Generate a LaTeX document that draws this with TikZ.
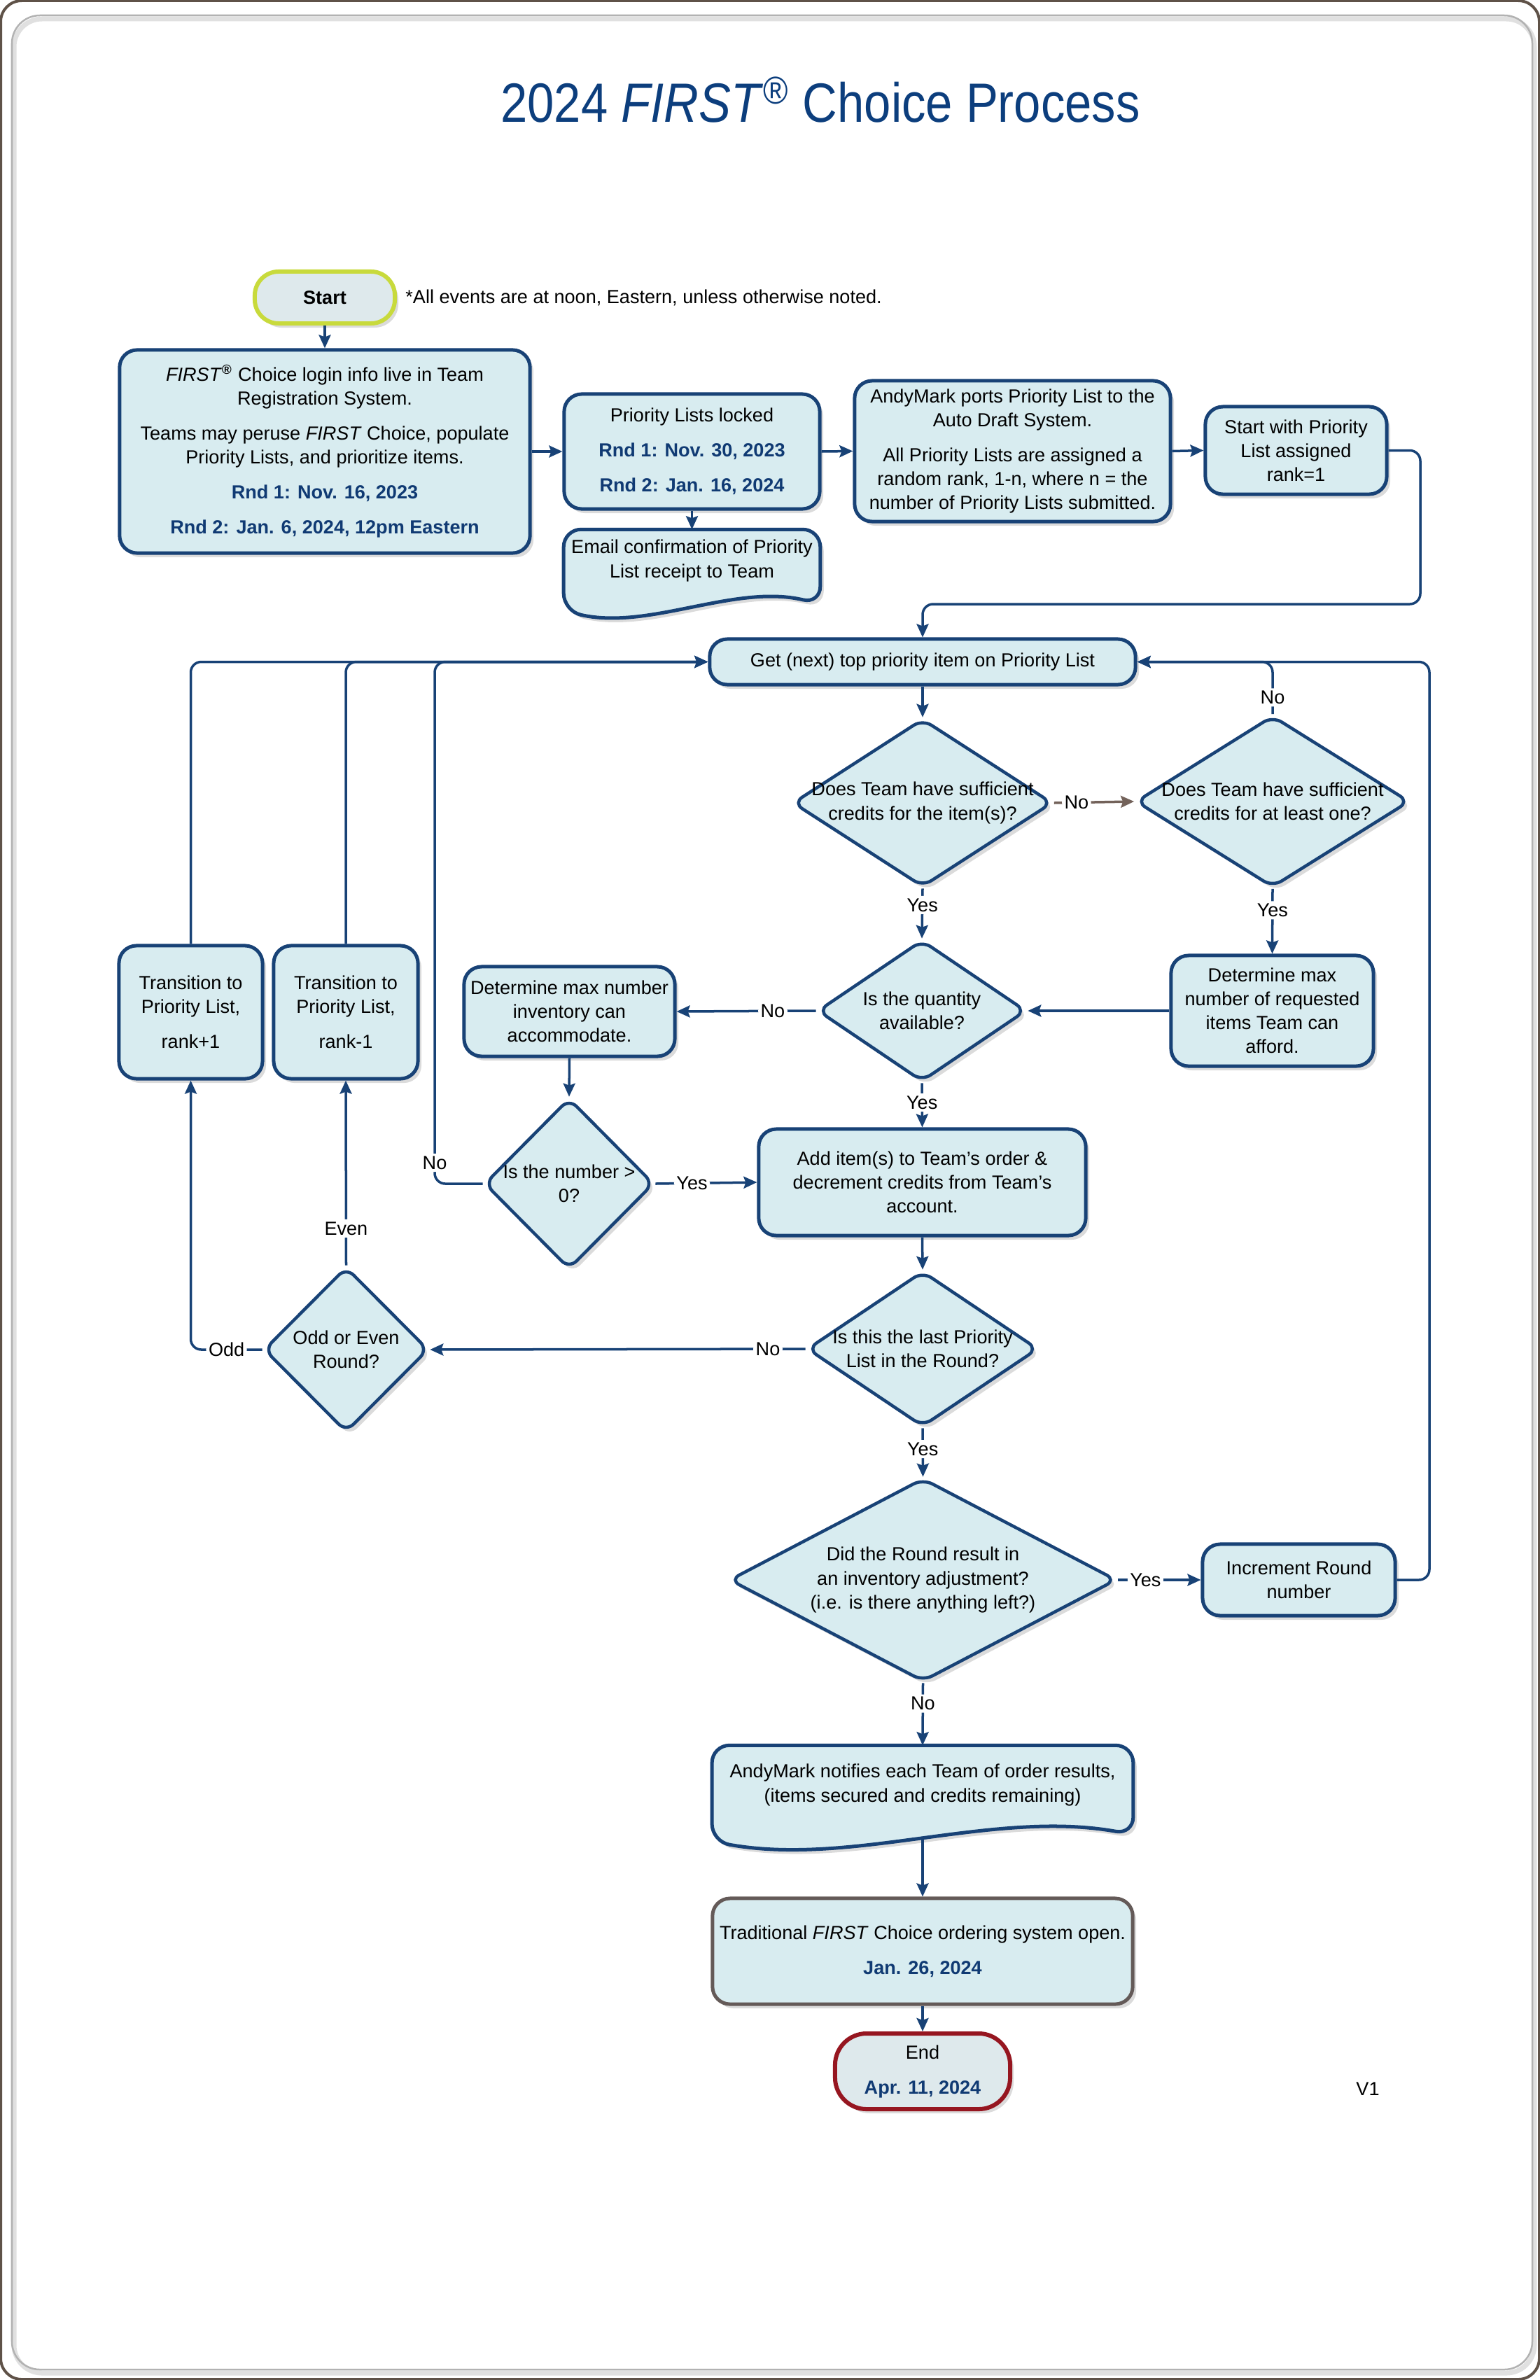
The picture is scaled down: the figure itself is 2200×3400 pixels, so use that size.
\documentclass[tikz,border=0pt]{standalone}
\usepackage{fontspec}
\setmainfont{Liberation Sans}
\newfontfamily\titlefont{Liberation Sans}[FakeStretch=0.87]
\usetikzlibrary{shapes.geometric,arrows.meta,shadows,calc,backgrounds}
\definecolor{navy}{RGB}{24,66,118}
\definecolor{datecol}{RGB}{16,58,115}
\definecolor{titleblue}{RGB}{12,62,125}
\definecolor{boxfill}{RGB}{216,236,240}
\definecolor{startfill}{RGB}{222,233,236}
\definecolor{startline}{RGB}{200,218,60}
\definecolor{endline}{RGB}{150,22,32}
\definecolor{tradline}{RGB}{100,90,88}
\definecolor{framebrown}{RGB}{95,82,72}
\definecolor{noarrow}{RGB}{115,98,90}
\newcommand{\dte}[1]{{\bfseries\color{datecol}#1}}

\begin{document}
\begin{tikzpicture}[x=0.01cm,y=-0.01cm,
  every node/.style={font=\fontsize{7.7}{9.7}\selectfont},
  softshadow/.style={drop shadow={shadow xshift=0.05cm,shadow yshift=-0.06cm,fill=black!40,opacity=0.35}},
  box/.style={draw=navy,line width=0.05cm,fill=boxfill,rounded corners=0.25cm,align=center,inner sep=0pt,softshadow},
  term/.style={draw=startline,line width=0.06cm,fill=startfill,rounded corners=0.34cm,align=center,inner sep=0pt,softshadow},
  dia/.style={diamond,draw=navy,line width=0.045cm,fill=boxfill,rounded corners=0.15cm,inner sep=0pt,softshadow},
  docnode/.style={align=center,inner sep=0pt},
  docshape/.style={draw=navy,line width=0.05cm,fill=boxfill,rounded corners=0.25cm,softshadow},
  txt/.style={align=center,inner sep=0pt},
  conn/.style={draw=navy,line width=0.035cm,rounded corners=0.15cm,-{Stealth[length=0.19cm,width=0.17cm,inset=0.03cm]}},
  lbl/.style={fill=white,inner sep=1pt}]
\useasboundingbox (0,0) rectangle (2200,3400);
% title and note
\node[anchor=base,font=\titlefont\fontsize{22.5}{27}\selectfont,text=titleblue] (title) at (1172,175) {2024 \textit{FIRST}\textsuperscript{®} Choice Process};
\node[term,minimum width=2cm,minimum height=0.74cm] (start) at (464,425) {\textbf{Start}};
\node[anchor=base west] (note) at (567,433) {*All events are at noon, Eastern, unless otherwise noted.};
% top row
\node[box,minimum width=5.86cm,minimum height=2.9cm] (login) at (464,645) {\textit{FIRST}\textsuperscript{\textbf{®}} Choice login info live in Team\\Registration System.\\[4.5pt]Teams may peruse \textit{FIRST} Choice, populate\\Priority Lists, and prioritize items.\\[4.5pt]\dte{Rnd 1: Nov. 16, 2023}\\[4.5pt]\dte{Rnd 2: Jan. 6, 2024, 12pm Eastern}};
\node[box,minimum width=3.65cm,minimum height=1.64cm] (locked) at (988.5,645) {Priority Lists locked\\[4.5pt]\dte{Rnd 1: Nov. 30, 2023}\\[4.5pt]\dte{Rnd 2: Jan. 16, 2024}};
\node[docnode,minimum width=3.65cm,minimum height=0.88cm] (email) at (988.5,801) {Email confirmation of Priority\\List receipt to Team};
\node[box,minimum width=4.51cm,minimum height=2.01cm] (ports) at (1446.5,644.5) {AndyMark ports Priority List to the\\Auto Draft System.\\[4.5pt]All Priority Lists are assigned a\\random rank, 1-n, where n = the\\number of Priority Lists submitted.};
\node[box,minimum width=2.59cm,minimum height=1.25cm] (rank) at (1851.5,643.5) {Start with Priority\\List assigned\\rank=1};
% main loop
\node[box,minimum width=6.08cm,minimum height=0.65cm] (get) at (1318,945.5) {Get (next) top priority item on Priority List};
\node[dia,minimum width=3.71cm,minimum height=2.4cm,label={[txt]center:{Does Team have sufficient\\credits for the item(s)?}}] (credits) at (1318,1147) {};
\node[dia,minimum width=3.91cm,minimum height=2.45cm,label={[txt]center:{Does Team have sufficient\\credits for at least one?}}] (atleast) at (1818,1145) {};
\node[box,minimum width=2.89cm,minimum height=1.58cm] (afford) at (1817.5,1444) {Determine max\\number of requested\\items Team can\\afford.};
\node[dia,minimum width=2.98cm,minimum height=2.02cm,label={[txt]center:{Is the quantity\\available?}}] (qty) at (1317,1444) {};
\node[box,minimum width=3.01cm,minimum height=1.28cm] (inv) at (813.5,1445) {Determine max number\\inventory can\\accommodate.};
\node[dia,minimum width=2.42cm,minimum height=2.44cm,label={[txt]center:{Is the number >\\0?}}] (num) at (813,1691) {};
\node[box,minimum width=4.67cm,minimum height=1.52cm] (add) at (1317.5,1689) {Add item(s) to Team’s order \&\\decrement credits from Team’s\\account.};
\node[box,minimum width=2.05cm,minimum height=1.9cm] (plus) at (272.5,1446) {Transition to\\Priority List,\\[4.5pt]rank+1};
\node[box,minimum width=2.06cm,minimum height=1.9cm] (minus) at (494,1446) {Transition to\\Priority List,\\[4.5pt]rank-1};
\node[dia,minimum width=2.35cm,minimum height=2.36cm,label={[txt]center:{Odd or Even\\Round?}}] (oddeven) at (494.5,1928) {};
\node[dia,minimum width=3.3cm,minimum height=2.22cm,label={[txt]center:{Is this the last Priority\\List in the Round?}}] (last) at (1318,1927) {};
\node[dia,minimum width=5.53cm,minimum height=2.9cm,label={[txt]center:{Did the Round result in\\an inventory adjustment?\\(i.e. is there anything left?)}}] (adjust) at (1318.5,2257) {};
\node[box,minimum width=2.75cm,minimum height=1.02cm] (incr) at (1855.5,2257) {Increment Round\\number};
% end of process
\node[docnode,minimum width=6cm,minimum height=1.12cm] (notify) at (1318,2550) {AndyMark notifies each Team of order results,\\(items secured and credits remaining)};
\node[box,draw=tradline,minimum width=6cm,minimum height=1.51cm] (trad) at (1318,2787.5) {Traditional \textit{FIRST} Choice ordering system open.\\[4.5pt]\dte{Jan. 26, 2024}};
\node[term,draw=endline,rounded corners=0.45cm,minimum width=2.5cm,minimum height=1.08cm] (finish) at (1318,2959) {End\\[4.5pt]\dte{Apr. 11, 2024}};
\node (ver) at (1954,2984) {V1};
% frame and document shapes
\begin{scope}[on background layer]
\draw[black!12,line width=0.07cm,rounded corners=0.4cm] (20,27) rectangle (2192,3390);
\draw[black!30,line width=0.025cm,rounded corners=0.4cm] (17,22) rectangle (2189,3385);
\draw[framebrown,line width=0.04cm,rounded corners=0.3cm] (1,1) rectangle (2199,3399);
\draw[docshape] (email.north) -- (email.north east) -- ($(email.south east)+(0,17)$) .. controls ($(email.south)+(61,-12)$) and ($(email.south)+(-61,55)$) .. ($(email.south west)+(0,27)$) -- (email.north west) -- cycle;
\draw[docshape] (notify.north) -- (notify.north east) -- ($(notify.south east)+(0,14)$) .. controls ($(notify.south)+(100,-22)$) and ($(notify.south)+(-100,60)$) .. ($(notify.south west)+(0,24)$) -- (notify.north west) -- cycle;
\end{scope}
% connectors
\draw[conn] (start.south) -- (login.north);
\draw[conn] (login.east) -- (locked.west);
\draw[conn] (locked.south) -- (email.north);
\draw[conn] (locked.east) -- (ports.west);
\draw[conn] (ports.east) -- (rank.west);
\coordinate (bend) at (2029,863);
\draw[conn] (rank.east) -| (bend) -| (get.north);
\draw[conn] (get.south) -- (credits.north);
\draw[conn,draw=noarrow] (credits.east) -- node[lbl,pos=0.28]{No} (atleast.west);
\draw[conn] (atleast.north) |- node[lbl,pos=0.16]{No} (get.east);
\draw[conn] (credits.south) -- node[lbl,pos=0.33]{Yes} (qty.north);
\draw[conn] (atleast.south) -- node[lbl,pos=0.33]{Yes} (afford.north);
\draw[conn] (afford.west) -- (qty.east);
\draw[conn] (qty.west) -- node[lbl,pos=0.31]{No} (inv.east);
\draw[conn] (qty.south) -- node[lbl,pos=0.44]{Yes} (add.north);
\draw[conn] (inv.south) -- (num.north);
\draw[conn] (num.east) -- node[lbl,pos=0.36]{Yes} (add.west);
\coordinate (numback) at (621,1691);
\draw[conn] (num.west) -- (numback) |- node[lbl,pos=0.02]{No} (get.west);
\draw[conn] (plus.north) |- (get.west);
\draw[conn] (minus.north) |- (get.west);
\draw[conn] (add.south) -- (last.north);
\draw[conn] (last.west) -- node[lbl,pos=0.1]{No} (oddeven.east);
\draw[conn] (oddeven.north) -- node[lbl,pos=0.2]{Even} (minus.south);
\draw[conn] (oddeven.west) -| node[lbl,pos=0.25]{Odd} (plus.south);
\draw[conn] (last.south) -- node[lbl,pos=0.43]{Yes} (adjust.north);
\draw[conn] (adjust.east) -- node[lbl,pos=0.33]{Yes} (incr.west);
\coordinate (loopback) at (2042,2257);
\draw[conn] (incr.east) -- (loopback) |- (get.east);
\draw[conn] (adjust.south) -- node[lbl,pos=0.33]{No} (notify.north);
\coordinate (notifyout) at ($(notify.south)+(0,20)$);
\draw[conn] (notifyout) -- (trad.north);
\draw[conn] (trad.south) -- (finish.north);
\end{tikzpicture}
\end{document}
